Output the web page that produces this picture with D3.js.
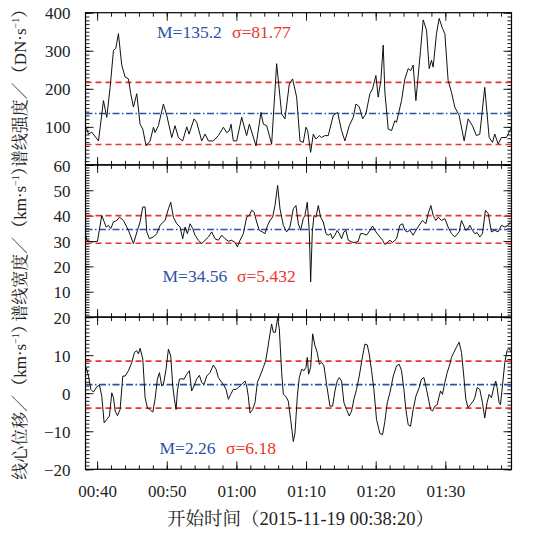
<!DOCTYPE html>
<html><head><meta charset="utf-8">
<script src="https://cdn.jsdelivr.net/npm/d3@7"></script>
<style>body{margin:0;background:#fff}</style>
</head><body><svg id="c" width="546" height="534"></svg>
<script>
// ---- data (time in minutes after 00:00, 2015-11-19) ----
const tTop=[38.43,38.76,39.24,40.20,40.91,41.39,41.87,42.35,42.68,43.06,43.54,44.02,44.50,44.83,45.22,45.69,46.17,46.56,47.03,47.61,48.09,48.32,48.80,49.52,50.00,50.72,51.19,51.67,52.29,52.87,53.20,53.92,54.30,55.02,55.50,55.98,56.69,57.41,58.13,58.61,58.99,59.23,59.56,60.04,60.76,61.47,61.86,62.81,63.53,63.87,64.35,65.06,65.78,66.50,66.97,67.60,68.07,68.65,69.13,69.60,69.99,70.23,70.66,71.04,71.42,71.90,72.23,72.71,73.19,73.91,74.53,75.10,75.58,76.20,76.78,77.16,77.64,78.12,78.59,79.17,79.55,80.03,80.36,80.74,81.08,81.32,81.80,82.28,82.75,82.99,83.71,84.19,84.67,85.05,85.38,85.77,86.44,86.82,87.30,87.68,88.01,88.25,88.73,89.11,89.59,89.93,90.40,90.88,91.36,91.98,92.70,93.27,93.89,94.47,94.95,95.66,96.29,96.77,97.10,97.58,98.06,98.78,99.50];
const vTop=[99,81,86,63,169,125,204,301,306,345,262,231,226,187,152,187,107,94,50,63,99,85,103,160,130,72,103,72,63,100,81,121,112,63,81,63,63,77,99,85,90,107,63,63,125,77,107,50,138,107,103,55,266,134,121,213,226,178,63,59,99,90,33,81,68,77,72,77,77,130,138,90,63,103,125,160,153,121,134,187,200,235,178,222,315,191,94,90,116,112,169,226,253,248,262,169,301,381,354,253,275,257,345,385,359,345,222,191,152,130,63,121,103,77,81,204,72,59,81,55,72,72,99];

const tMid=[38.36,38.52,39.24,40.05,40.67,41.30,41.63,41.96,42.35,42.83,43.21,43.78,44.50,45.22,45.79,46.17,46.56,46.89,47.13,47.51,48.09,48.56,49.04,49.76,50.24,50.57,50.95,51.43,51.91,52.29,52.63,52.96,53.35,53.73,54.06,54.54,55.02,55.50,55.98,56.45,56.93,57.41,57.89,58.37,58.85,59.32,59.80,60.14,60.52,61.00,61.47,61.86,62.19,62.53,62.91,63.29,63.72,64.10,64.49,64.82,65.20,65.54,65.92,66.26,66.74,67.21,67.69,68.17,68.55,68.89,69.22,69.60,69.84,70.18,70.47,70.66,70.90,71.14,71.42,71.76,72.09,72.47,72.86,73.19,73.53,73.81,74.15,74.48,74.77,75.10,75.44,75.73,76.06,76.54,77.02,77.49,77.83,78.21,78.69,79.17,79.55,79.89,80.22,80.60,80.99,81.32,81.66,82.04,82.42,83.00,83.47,83.86,84.19,84.52,84.91,85.38,85.77,86.25,86.72,87.20,87.54,87.92,88.25,88.64,88.97,89.45,89.93,90.40,90.88,91.36,91.98,92.32,92.94,93.27,93.51,93.89,94.23,94.57,94.95,95.33,95.76,96.15,96.62,97.10,97.58,98.06,98.54,99.01,99.50];
const vMid=[32.3,30.3,29.6,29.9,40.1,35.5,36.2,34.9,37.5,38.1,39.4,38.1,34.2,29.0,34.2,37.5,43.4,43.4,33.6,30.9,31.6,32.9,36.2,38.1,42.7,45.3,39.4,36.8,35.5,30.9,35.5,32.9,36.8,34.9,32.3,30.3,29.0,30.3,31.6,33.6,30.9,30.3,32.3,30.9,29.9,30.3,29.4,27.7,30.3,32.9,39.4,40.1,42.1,41.4,37.5,34.2,33.6,32.9,36.2,38.1,39.4,44.0,51.9,42.7,36.2,33.6,35.5,42.7,44.0,36.8,34.2,38.8,40.1,45.3,33.6,13.9,33.6,40.1,39.4,44.0,39.4,37.5,32.9,32.3,32.9,30.9,32.3,34.2,32.9,30.9,33.6,34.2,30.3,29.6,29.4,29.9,32.9,32.9,32.3,34.2,35.9,34.2,32.9,31.6,30.3,28.6,29.4,30.3,29.4,30.9,36.2,36.8,34.2,33.6,34.2,32.3,34.2,36.2,38.1,36.8,40.8,44.0,40.1,38.1,39.4,38.1,38.8,35.5,32.9,31.6,33.6,38.1,34.2,34.9,36.2,34.2,32.9,33.3,31.6,32.9,42.1,40.8,33.6,34.2,33.6,36.2,35.5,36.2,38.1];

const tBot=[38.43,38.76,39.10,39.48,39.96,40.34,40.67,41.01,41.39,41.77,42.11,42.35,42.59,42.92,43.30,43.69,44.02,44.50,44.98,45.36,45.69,45.93,46.17,46.56,46.89,47.22,47.61,47.99,48.32,48.66,48.95,49.28,49.52,49.90,50.24,50.57,50.86,51.10,51.34,51.53,51.82,52.15,52.49,52.87,53.25,53.58,53.92,54.30,54.69,55.02,55.35,55.74,56.21,56.69,57.08,57.41,57.75,58.13,58.51,58.85,59.18,59.56,59.94,60.28,60.76,61.24,61.47,61.71,61.95,62.33,62.67,63.01,63.39,63.87,64.20,64.49,64.82,65.06,65.30,65.59,65.92,66.16,66.50,66.74,67.12,67.45,67.79,68.17,68.41,68.75,69.03,69.37,69.70,69.99,70.18,70.37,70.66,70.95,71.28,71.61,71.90,72.23,72.57,72.95,73.43,73.81,74.15,74.48,74.77,75.10,75.44,75.82,76.20,76.54,76.87,77.25,77.64,78.12,78.45,78.79,79.07,79.41,79.74,80.12,80.60,80.99,81.32,81.66,82.04,82.52,83.00,83.38,83.71,84.05,84.33,84.67,85.00,85.38,85.77,86.25,86.58,86.92,87.20,87.54,87.88,88.16,88.50,88.83,89.12,89.31,89.59,89.93,90.26,90.65,90.88,91.22,91.60,91.98,92.32,92.65,92.94,93.27,93.61,93.99,94.23,94.57,94.95,95.33,95.66,95.99,96.29,96.62,96.95,97.24,97.43,97.72,97.91,98.20,98.54,98.87,99.16,99.50];
const vBot=[6.8,4.5,1.0,0.3,1.7,2.1,-0.8,-7.8,-6.9,-6.0,0.1,-1.2,-4.7,-5.9,-4.3,4.5,4.5,5.9,8.1,10.7,11.2,10.3,11.8,9.0,-1.2,-3.8,-4.3,-5.0,-1.6,3.7,5.4,1.9,2.3,6.3,11.6,9.8,1.9,-1.6,-4.3,0.6,3.7,3.8,3.7,5.0,5.9,0.6,1.9,3.7,4.7,2.8,2.3,4.5,5.4,7.4,6.3,4.1,3.2,2.3,1.0,-1.6,-0.3,1.0,1.0,1.5,2.3,3.2,1.9,-0.8,-5.2,-4.3,-2.5,2.8,4.5,6.8,8.5,11.6,15.6,18.2,16.0,16.0,19.8,16.9,5.4,-0.3,-0.9,-2.1,-6.9,-12.7,-10.5,-0.8,4.1,6.3,5.9,6.8,9.4,5.0,6.8,15.6,12.5,10.7,7.6,8.1,7.2,2.3,-3.4,-3.4,0.6,3.2,4.1,3.2,-2.5,-4.3,-6.0,-4.7,-1.6,1.0,4.5,9.8,12.9,12.7,10.3,5.9,1.0,-6.9,-10.6,-10.9,-7.4,-2.5,0.1,4.5,7.2,7.6,5.9,1.0,-4.3,-8.3,-8.7,-4.3,-0.8,1.5,3.7,4.1,1.9,-1.2,-4.3,-4.7,-3.4,-3.0,-0.8,0.6,-0.3,2.8,5.4,7.6,9.4,10.7,12.1,13.4,10.7,4.5,-1.6,-3.8,-3.0,-2.1,-1.2,1.5,1.0,-2.5,-6.5,-2.5,-0.3,-1.2,1.5,3.2,1.5,-2.5,-3.0,1.9,8.1,11.2,11.8,10.7];

const means=[135.2,34.56,2.26];
const sigmas=[81.77,5.432,6.18];
const meanLabels=["M=135.2","M=34.56","M=2.26"];
const sigmaLabels=["σ=81.77","σ=5.432","σ=6.18"];
const yDomTop=[0,400], yDomMid=[0,60], yDomBot=[-20,20];
const yLabTop=[100,200,300,400];
const yLabMid=[10,20,30,40,50,60];
const yLabBot=[-20,-10,0,10,20];
const xTickMinutes=[40,50,60,70,80,90];
const timeDomain=[38+20/60, 99.5];
const titleMain=["谱线强度／（DN·s","谱线宽度／（km·s","线心位移／（km·s"];
const xTitle="开始时间（2015-11-19 00:38:20）";

// ---- drawing ----
const FONT='"Liberation Serif","Times New Roman","Noto Serif CJK SC","Noto Sans CJK SC",serif';
const BLUE="#2c52a6", RED="#e8352d";
const svg=d3.select("#c");
const L=85.5,R=511.5,T0=12.7,H=152.2;
const x=d3.scaleLinear().domain(timeDomain).range([L,R]);
const pad=n=>String(n).padStart(2,"0");
const fmtT=m=>pad(Math.floor(m/60))+":"+pad(m%60);

const panels=[
 {t:tTop,v:vTop,dom:yDomTop,lab:yLabTop,minor:10,major:100,ann:[157,38,232],tc:84},
 {t:tMid,v:vMid,dom:yDomMid,lab:yLabMid,minor:1,major:10,ann:[162.5,282,237],tc:240},
 {t:tBot,v:vBot,dom:yDomBot,lab:yLabBot,minor:1,major:10,ann:[159.5,454,226],tc:398}
];
const xMinor=d3.range(40,100,2), xMajor=d3.range(40,100,10);

panels.forEach((p,i)=>{
  const top=T0+i*H, bot=top+H;
  const y=d3.scaleLinear().domain(p.dom).range([bot,top]);
  const g=svg.append("g").attr("font-family",FONT);
  const minorT=d3.range(p.dom[0],p.dom[1]+1e-9,p.minor);
  const majorT=d3.range(p.dom[0],p.dom[1]+1e-9,p.major);
  const clean=s=>{s.select(".domain").remove();s.selectAll("line").attr("stroke","#000").attr("stroke-width",0.9);};
  g.append("g").attr("transform",`translate(${L},0)`).call(d3.axisLeft(y).tickValues(minorT).tickSize(-4).tickFormat("")).call(clean);
  g.append("g").attr("transform",`translate(${L},0)`).call(d3.axisLeft(y).tickValues(majorT).tickSize(-8).tickFormat("")).call(clean);
  g.append("g").attr("transform",`translate(${R},0)`).call(d3.axisRight(y).tickValues(minorT).tickSize(-4).tickFormat("")).call(clean);
  g.append("g").attr("transform",`translate(${R},0)`).call(d3.axisRight(y).tickValues(majorT).tickSize(-8).tickFormat("")).call(clean);
  const la=g.append("g").attr("transform",`translate(${L},0)`).call(d3.axisLeft(y).tickValues(p.lab).tickSize(0).tickPadding(15)).call(clean);
  la.selectAll("text").attr("font-size",17).attr("font-family",FONT).attr("fill","#222").attr("dy","0.36em");
  g.append("g").attr("transform",`translate(0,${bot})`).call(d3.axisBottom(x).tickValues(xMinor).tickSize(-4).tickFormat("")).call(clean);
  g.append("g").attr("transform",`translate(0,${bot})`).call(d3.axisBottom(x).tickValues(xMajor).tickSize(-8).tickFormat("")).call(clean);
  g.append("g").attr("transform",`translate(0,${top})`).call(d3.axisTop(x).tickValues(xMinor).tickSize(-4).tickFormat("")).call(clean);
  g.append("g").attr("transform",`translate(0,${top})`).call(d3.axisTop(x).tickValues(xMajor).tickSize(-8).tickFormat("")).call(clean);
  const cid="clip"+i;
  svg.append("clipPath").attr("id",cid).append("rect").attr("x",L).attr("y",top).attr("width",R-L).attr("height",H);
  const cg=g.append("g").attr("clip-path",`url(#${cid})`);
  const m=means[i], s=sigmas[i];
  [m+s,m-s].forEach(val=>cg.append("line").attr("x1",L).attr("x2",R).attr("y1",y(val)).attr("y2",y(val))
     .attr("stroke",RED).attr("stroke-width",1.6).attr("stroke-dasharray","6,4"));
  cg.append("line").attr("x1",L).attr("x2",R).attr("y1",y(m)).attr("y2",y(m))
     .attr("stroke",BLUE).attr("stroke-width",1.6).attr("stroke-dasharray","7,2.5,1.5,2.5");
  const pts=p.t.map((t,k)=>[t,p.v[k]]);
  cg.append("path").datum(pts).attr("fill","none").attr("stroke","#111").attr("stroke-width",1)
    .attr("stroke-linejoin","round")
    .attr("d",d3.line().x(d=>x(d[0])).y(d=>y(d[1])));
  g.append("rect").attr("x",L).attr("y",top).attr("width",R-L).attr("height",H)
    .attr("fill","none").attr("stroke","#000").attr("stroke-width",1.2);
  g.append("text").attr("x",p.ann[0]).attr("y",p.ann[1]).attr("font-size",17.5).attr("fill",BLUE).text(meanLabels[i]);
  g.append("text").attr("x",p.ann[2]).attr("y",p.ann[1]).attr("font-size",17.5).attr("fill",RED).text(sigmaLabels[i]);
  const tt=g.append("text").attr("transform",`translate(26,${p.tc}) rotate(-90)`).attr("text-anchor","middle")
    .attr("font-size",17).attr("fill","#222");
  tt.append("tspan").text(titleMain[i]);
  tt.append("tspan").attr("font-size",10).attr("dy",-7).text("−1");
  tt.append("tspan").attr("dy",7).text("）");
  if(i===2){
    const xa=g.append("g").attr("transform",`translate(0,${bot})`).call(d3.axisBottom(x).tickValues(xTickMinutes).tickSize(0).tickPadding(16).tickFormat(fmtT)).call(clean);
    xa.selectAll("text").attr("font-size",17).attr("font-family",FONT).attr("fill","#222");
    g.append("text").attr("x",(L+R)/2+2).attr("y",525).attr("text-anchor","middle").attr("font-size",18.5).attr("fill","#222").text(xTitle);
  }
});
</script></body></html>
